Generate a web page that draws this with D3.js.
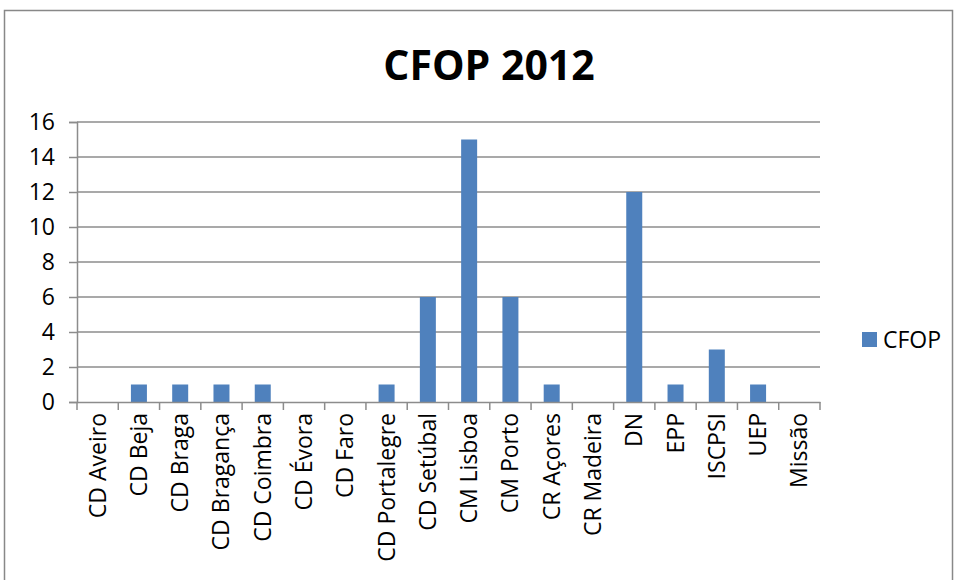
<!DOCTYPE html>
<html lang="pt">
<head>
<meta charset="UTF-8">
<title>CFOP 2012</title>
<script src="https://d3js.org/d3.v7.min.js"></script>
<style>
    body { margin: 0; background: #fff; }
    svg text { font-family: "Open Sans", "Noto Sans", sans-serif; fill: #000; }
</style>
</head>
<body>
<svg id="chart" width="956" height="580"></svg>
<script>
    // dados
    let categories = ["CD Aveiro", "CD Beja", "CD Braga", "CD Bragança", "CD Coimbra", "CD Évora",
        "CD Faro", "CD Portalegre", "CD Setúbal", "CM Lisboa", "CM Porto", "CR Açores",
        "CR Madeira", "DN", "EPP", "ISCPSI", "UEP", "Missão"];
    let values = [0, 1, 1, 1, 1, 0, 0, 1, 6, 15, 6, 1, 0, 12, 1, 3, 1, 0];
    let yTicks = [0, 2, 4, 6, 8, 10, 12, 14, 16];
    let seriesName = "CFOP";
    let title = "CFOP 2012";

    let svg = d3.select("#chart");
    let plotLeft = 77, plotRight = 820, plotTop = 122, plotBottom = 402;
    let barColor = "#4F81BD";
    let gridColor = "#8c8c8c";
    let labelSize = "23px";

    svg.append("rect")
        .attr("x", 4.5).attr("y", 10.5)
        .attr("width", 948).attr("height", 620)
        .attr("fill", "#fff").attr("stroke", "#888").attr("stroke-width", 1.5);

    svg.append("text")
        .attr("x", 489).attr("y", 80)
        .attr("text-anchor", "middle")
        .style("font-size", "41px").style("font-weight", "bold")
        .text(title);

    let x = d3.scaleBand().domain(categories).range([plotLeft, plotRight]).paddingInner(0).paddingOuter(0);
    let y = d3.scaleLinear().domain([0, 16]).range([plotBottom, plotTop]);
    let barW = 16;

    // grelha
    svg.append("g").selectAll("line")
        .data(yTicks.filter(d => d > 0))
        .enter().append("line")
        .attr("x1", plotLeft).attr("x2", plotRight)
        .attr("y1", d => y(d)).attr("y2", d => y(d))
        .attr("stroke", gridColor).attr("stroke-width", 1.5);

    // barras
    svg.append("g").selectAll("rect")
        .data(values)
        .enter().append("rect")
        .attr("x", (d, i) => x(categories[i]) + x.bandwidth() / 2 - barW / 2)
        .attr("width", barW)
        .attr("y", d => y(d))
        .attr("height", d => plotBottom - y(d))
        .attr("fill", barColor);

    // eixo y
    let yAxis = svg.append("g")
        .attr("transform", "translate(" + plotLeft + ",0)")
        .call(d3.axisLeft(y).tickValues(yTicks).tickSize(8).tickPadding(14));
    yAxis.select(".domain").attr("stroke", gridColor).attr("stroke-width", 1.5);
    yAxis.selectAll(".tick line").attr("stroke", gridColor).attr("stroke-width", 1.5);
    yAxis.selectAll(".tick text").style("font-size", labelSize).style("font-family", "'Open Sans', sans-serif");

    // eixo x
    let xAxis = svg.append("g")
        .attr("transform", "translate(0," + plotBottom + ")")
        .call(d3.axisBottom(x).tickSize(0).tickFormat(""));
    xAxis.select(".domain").attr("stroke", gridColor).attr("stroke-width", 1.5);
    let bounds = categories.map(c => x(c)).concat([plotRight]);
    svg.append("g").selectAll("line")
        .data(bounds)
        .enter().append("line")
        .attr("x1", d => d).attr("x2", d => d)
        .attr("y1", plotBottom).attr("y2", plotBottom + 8)
        .attr("stroke", gridColor).attr("stroke-width", 1.5);

    svg.append("g").selectAll("text")
        .data(categories)
        .enter().append("text")
        .attr("transform", d => "translate(" + (x(d) + x.bandwidth() / 2 + 8) + "," + (plotBottom + 11) + ") rotate(-90)")
        .attr("text-anchor", "end")
        .style("font-size", labelSize)
        .text(d => d);

    // legenda
    svg.append("rect")
        .attr("x", 862).attr("y", 332).attr("width", 15).attr("height", 15)
        .attr("fill", barColor);
    svg.append("text")
        .attr("x", 883).attr("y", 348)
        .style("font-size", labelSize)
        .text(seriesName);
</script>
</body>
</html>
